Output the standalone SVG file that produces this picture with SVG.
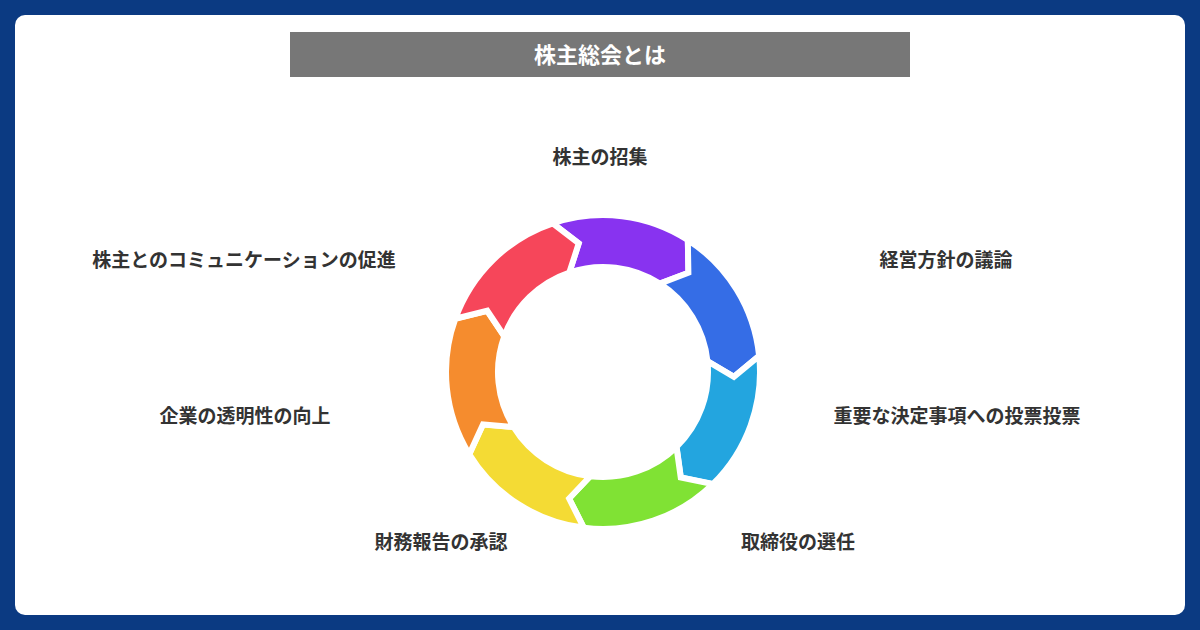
<svg xmlns="http://www.w3.org/2000/svg" width="1200" height="630" viewBox="0 0 1200 630">
<style>
.l{font-family:"Noto Sans CJK JP","Noto Sans",sans-serif;font-weight:bold;font-size:19px;fill:#333;text-anchor:middle}
.s{stroke:#fff;stroke-width:6;stroke-linejoin:miter}
</style>
<defs>
<path id="seg" d="M0,-157 A157,157 0 0 1 122.7,-97.9 L112.8,-66.6 L82.1,-65.5 A105,105 0 0 0 0,-105 L18.2,-129.7 Z"/>
</defs>
<rect width="1200" height="630" fill="#0B3A82"/>
<rect x="15" y="15" width="1170" height="600" rx="10" fill="#fff"/>
<g id="title"><rect x="290" y="32" width="620" height="45" fill="#777"/>
<text x="600" y="63" style="font-family:'Noto Sans CJK JP',sans-serif;font-weight:bold;font-size:22px;fill:#fff;text-anchor:middle">株主総会とは</text></g>
<g id="ring" transform="translate(603,372)">
<use href="#seg" class="s" fill="#8833F0" transform="rotate(-18.7)"/>
<use href="#seg" class="s" fill="#356DE6" transform="rotate(32.7)"/>
<use href="#seg" class="s" fill="#23A5DF" transform="rotate(84.1)"/>
<use href="#seg" class="s" fill="#80E234" transform="rotate(135.6)"/>
<use href="#seg" class="s" fill="#F4DB34" transform="rotate(187)"/>
<use href="#seg" class="s" fill="#F58C2E" transform="rotate(238.4)"/>
<use href="#seg" class="s" fill="#F6465A" transform="rotate(289.9)"/>
</g>
<g id="n1"><text class="l" x="600" y="164">株主の招集</text></g>
<g id="n2"><text class="l" x="946" y="267">経営方針の議論</text></g>
<g id="n3"><text class="l" x="957" y="423">重要な決定事項への投票投票</text></g>
<g id="n4"><text class="l" x="798" y="549">取締役の選任</text></g>
<g id="n5"><text class="l" x="441" y="549">財務報告の承認</text></g>
<g id="n6"><text class="l" x="245" y="423">企業の透明性の向上</text></g>
<g id="n7"><text class="l" x="244" y="267">株主とのコミュニケーションの促進</text></g>
</svg>
